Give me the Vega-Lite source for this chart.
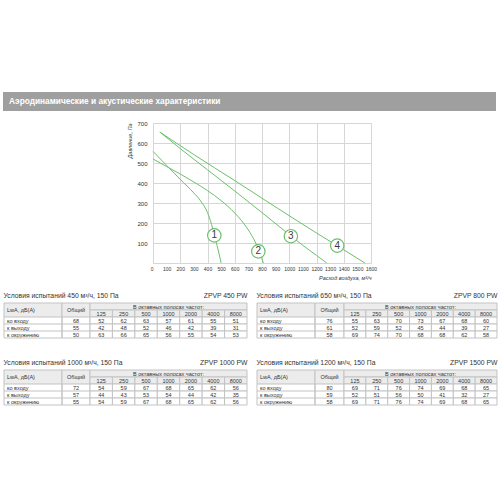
{
"$schema": "https://vega.github.io/schema/vega-lite/v6.json",
"padding": {"left": 3, "top": 92, "right": 0, "bottom": 0},
"background": "white",
"bounds": "flush",
"spacing": 0,
"datasets": {
 "blank": [],
 "hdr": [{"row": "h1"}, {"row": "h2"}],
 "curves": [
  {"curve":"1","flow":0,"p":558},{"curve":"1","flow":100,"p":488},{"curve":"1","flow":200,"p":418},{"curve":"1","flow":300,"p":350},{"curve":"1","flow":350,"p":310},{"curve":"1","flow":400,"p":252},{"curve":"1","flow":430,"p":192},{"curve":"1","flow":450,"p":140},{"curve":"1","flow":470,"p":88},{"curve":"1","flow":500,"p":0},
  {"curve":"2","flow":0,"p":520},{"curve":"2","flow":100,"p":482},{"curve":"2","flow":200,"p":445},{"curve":"2","flow":300,"p":405},{"curve":"2","flow":400,"p":362},{"curve":"2","flow":500,"p":312},{"curve":"2","flow":600,"p":250},{"curve":"2","flow":700,"p":165},{"curve":"2","flow":750,"p":105},{"curve":"2","flow":780,"p":58},{"curve":"2","flow":810,"p":0},
  {"curve":"3","flow":50,"p":655},{"curve":"3","flow":200,"p":572},{"curve":"3","flow":400,"p":466},{"curve":"3","flow":600,"p":360},{"curve":"3","flow":800,"p":252},{"curve":"3","flow":1000,"p":142},{"curve":"3","flow":1100,"p":88},{"curve":"3","flow":1200,"p":38},{"curve":"3","flow":1275,"p":0},
  {"curve":"4","flow":50,"p":655},{"curve":"4","flow":300,"p":542},{"curve":"4","flow":600,"p":412},{"curve":"4","flow":900,"p":280},{"curve":"4","flow":1200,"p":150},{"curve":"4","flow":1400,"p":66},{"curve":"4","flow":1555,"p":0}
 ],
 "tags": [
  {"curve":"1","flow":450,"p":138},{"curve":"2","flow":773,"p":58},{"curve":"3","flow":1012,"p":134},{"curve":"4","flow":1352,"p":87}
 ],
 "noise": [
  {"t":"ZPVP 450 PW","row":"ко входу","total":68,"125":52,"250":62,"500":63,"1000":57,"2000":61,"4000":55,"8000":51},
  {"t":"ZPVP 450 PW","row":"к выходу","total":55,"125":42,"250":48,"500":52,"1000":46,"2000":42,"4000":39,"8000":31},
  {"t":"ZPVP 450 PW","row":"к окружению","total":50,"125":63,"250":66,"500":65,"1000":56,"2000":55,"4000":54,"8000":53},
  {"t":"ZPVP 800 PW","row":"ко входу","total":76,"125":55,"250":63,"500":70,"1000":73,"2000":67,"4000":68,"8000":60},
  {"t":"ZPVP 800 PW","row":"к выходу","total":61,"125":52,"250":59,"500":52,"1000":45,"2000":44,"4000":39,"8000":27},
  {"t":"ZPVP 800 PW","row":"к окружению","total":58,"125":69,"250":74,"500":70,"1000":68,"2000":68,"4000":62,"8000":58},
  {"t":"ZPVP 1000 PW","row":"ко входу","total":72,"125":54,"250":59,"500":67,"1000":68,"2000":65,"4000":62,"8000":56},
  {"t":"ZPVP 1000 PW","row":"к выходу","total":57,"125":44,"250":43,"500":53,"1000":54,"2000":44,"4000":42,"8000":35},
  {"t":"ZPVP 1000 PW","row":"к окружению","total":55,"125":54,"250":59,"500":67,"1000":68,"2000":65,"4000":62,"8000":56},
  {"t":"ZPVP 1500 PW","row":"ко входу","total":80,"125":69,"250":71,"500":76,"1000":74,"2000":69,"4000":68,"8000":65},
  {"t":"ZPVP 1500 PW","row":"к выходу","total":59,"125":52,"250":51,"500":56,"1000":50,"2000":41,"4000":32,"8000":27},
  {"t":"ZPVP 1500 PW","row":"к окружению","total":58,"125":69,"250":71,"500":76,"1000":74,"2000":69,"4000":68,"8000":65}
 ]
},
"vconcat": [
 {
  "width": 493, "height": 19,
  "view": {"fill": "#9f9f9f", "stroke": null},
  "data": {"values": [{"s": "Аэродинамические и акустические характеристики"}]},
  "mark": {"type": "text", "align": "left", "baseline": "middle", "dx": 6, "font": "Liberation Sans", "fontSize": 8.3, "fontWeight": "bold", "color": "white"},
  "encoding": {"text": {"field": "s"}, "x": {"datum": 0, "type": "quantitative", "scale": {"domain": [0, 1]}, "axis": null}}
 },
 {"data": {"name": "blank"}, "mark": "point", "width": 1, "height": 12},
 {
  "bounds": "flush", "spacing": 0,
  "hconcat": [
   {"data": {"name": "blank"}, "mark": "point", "width": 150, "height": 140},
   {
    "width": 218, "height": 140,
    "encoding": {
     "x": {"field": "flow", "type": "quantitative", "scale": {"domain": [0, 1600], "nice": false, "zero": false},
      "axis": {"values": [0,100,200,300,400,500,600,700,800,900,1000,1100,1200,1300,1400,1500,1600], "format": "d",
       "grid": true, "gridColor": {"condition": {"test": "datum.value % 200 === 0", "value": "#d6d6d6"}, "value": "transparent"},
       "ticks": false, "domain": false, "labelFontSize": 5, "labelPadding": 3, "labelFlush": false, "labelOverlap": false,
       "labelAlign": {"condition": {"test": "datum.value === 0", "value": "right"}, "value": "center"},
       "title": "Расход воздуха, м³/ч", "titleAnchor": "end", "titleFontSize": 5.5, "titleFontStyle": "italic", "titleFontWeight": "normal", "titlePadding": 4}},
     "y": {"field": "p", "type": "quantitative", "scale": {"domain": [0, 700], "nice": false},
      "axis": {"values": [0,100,200,300,400,500,600,700], "format": "d", "grid": true, "gridColor": "#d6d6d6", "ticks": false, "domain": false,
       "labelFontSize": 6, "labelPadding": 6, "labelOverlap": false, "labelExpr": "datum.value === 0 ? '' : datum.label",
       "title": "Давление, Па", "titleAnchor": "end", "titleAngle": -90, "titleFontSize": 5.5, "titleFontStyle": "italic", "titleFontWeight": "normal", "titlePadding": 4}}
    },
    "layer": [
     {"data": {"name": "curves"}, "mark": {"type": "line", "interpolate": "monotone", "color": "#6cbf6c", "strokeWidth": 1},
      "encoding": {"detail": {"field": "curve", "type": "nominal"}}},
     {"data": {"name": "tags"}, "mark": {"type": "point", "shape": "circle", "size": 180, "filled": true, "fill": "white", "stroke": "#6cbf6c", "strokeWidth": 1.2, "opacity": 1}},
     {"data": {"name": "tags"}, "mark": {"type": "text", "font": "Liberation Sans", "fontSize": 10, "color": "#3a3a3a"},
      "encoding": {"text": {"field": "curve"}}}
    ]
   }
  ]
 },
 {"data": {"name": "blank"}, "mark": "point", "width": 1, "height": 180},
 {
  "bounds": "flush", "spacing": 0,
  "hconcat": [
   {"data": {"name": "blank"}, "mark": "point", "width": 1, "height": 35},
   {
    "width": 58, "height": 35,
    "title": {"text": "Условия испытаний 450 м³/ч, 150 Па", "anchor": "start", "offset": 3},
    "layer": [
     {"data": {"name": "hdr"}, "mark": {"type": "rect", "color": "#ececec"}, "encoding": {"y": {"field": "row", "type": "nominal", "scale": {"domain": ["h1","h2","ко входу","к выходу","к окружению"], "paddingInner": 0, "paddingOuter": 0}, "axis": null}}},
     {"data": {"name": "noise"}, "transform": [{"filter": "datum.t == 'ZPVP 450 PW'"}], "mark": {"type": "rule", "color": "#c3c3c3"}, "encoding": {"y": {"field": "row", "type": "nominal", "bandPosition": 0}}},
     {"data": {"values": [{"s": "LwA, дБ(A)"}]}, "mark": {"type": "text", "align": "left", "dx": 3}, "encoding": {"text": {"field": "s"}, "x": {"datum": 0, "type": "quantitative", "scale": {"domain": [0, 1]}, "axis": null}, "y": {"datum": "h2", "type": "nominal", "bandPosition": 0}}},
     {"data": {"name": "noise"}, "transform": [{"filter": "datum.t == 'ZPVP 450 PW'"}], "mark": {"type": "text", "align": "left", "dx": 3}, "encoding": {"text": {"field": "row"}, "x": {"datum": 0, "type": "quantitative"}, "y": {"field": "row", "type": "nominal"}}},
     {"data": {"values": [{}]}, "mark": {"type": "rect", "filled": false, "color": "#c3c3c3"}, "encoding": {}}
    ]
   },
   {
    "width": 28, "height": 35,
    "layer": [
     {"data": {"name": "hdr"}, "mark": {"type": "rect", "color": "#ececec"}, "encoding": {"y": {"field": "row", "type": "nominal", "scale": {"domain": ["h1","h2","ко входу","к выходу","к окружению"], "paddingInner": 0, "paddingOuter": 0}, "axis": null}}},
     {"data": {"name": "noise"}, "transform": [{"filter": "datum.t == 'ZPVP 450 PW'"}], "mark": {"type": "rule", "color": "#c3c3c3"}, "encoding": {"y": {"field": "row", "type": "nominal", "bandPosition": 0}}},
     {"data": {"values": [{"s": "Общий"}]}, "mark": "text", "encoding": {"text": {"field": "s"}, "y": {"datum": "h2", "type": "nominal", "bandPosition": 0}}},
     {"data": {"name": "noise"}, "transform": [{"filter": "datum.t == 'ZPVP 450 PW'"}], "mark": "text", "encoding": {"text": {"field": "total"}, "y": {"field": "row", "type": "nominal"}}},
     {"data": {"values": [{}]}, "mark": {"type": "rect", "filled": false, "color": "#c3c3c3"}, "encoding": {}}
    ]
   },
   {
    "width": 157, "height": 35,
    "title": {"text": "ZPVP 450 PW", "anchor": "end", "offset": 3},
    "layer": [
     {"data": {"name": "hdr"}, "transform": [{"filter": "datum.row == 'h1'"}], "mark": {"type": "rect", "fill": "#ececec", "stroke": "#c3c3c3"}, "encoding": {"y": {"field": "row", "type": "nominal", "scale": {"domain": ["h1","h2","ко входу","к выходу","к окружению"], "paddingInner": 0, "paddingOuter": 0}, "axis": null}}},
     {"data": {"name": "noise"}, "transform": [{"filter": "datum.t == 'ZPVP 450 PW' && datum.row == 'ко входу'"}, {"fold": ["125","250","500","1000","2000","4000","8000"], "as": ["f","v"]}], "mark": {"type": "rect", "fill": "#ececec", "stroke": "#c3c3c3"}, "encoding": {"x": {"field": "f", "type": "nominal", "scale": {"domain": ["125","250","500","1000","2000","4000","8000"], "paddingInner": 0, "paddingOuter": 0}, "axis": null}, "y": {"datum": "h2", "type": "nominal"}}},
     {"data": {"name": "noise"}, "transform": [{"filter": "datum.t == 'ZPVP 450 PW'"}, {"fold": ["125","250","500","1000","2000","4000","8000"], "as": ["f","v"]}], "mark": {"type": "rect", "fill": "white", "stroke": "#c3c3c3"}, "encoding": {"x": {"field": "f", "type": "nominal"}, "y": {"field": "row", "type": "nominal"}}},
     {"data": {"values": [{"s": "В октавных полосах частот:"}]}, "mark": "text", "encoding": {"text": {"field": "s"}, "y": {"datum": "h1", "type": "nominal"}}},
     {"data": {"name": "noise"}, "transform": [{"filter": "datum.t == 'ZPVP 450 PW' && datum.row == 'ко входу'"}, {"fold": ["125","250","500","1000","2000","4000","8000"], "as": ["f","v"]}], "mark": "text", "encoding": {"text": {"field": "f"}, "x": {"field": "f", "type": "nominal"}, "y": {"datum": "h2", "type": "nominal"}}},
     {"data": {"name": "noise"}, "transform": [{"filter": "datum.t == 'ZPVP 450 PW'"}, {"fold": ["125","250","500","1000","2000","4000","8000"], "as": ["f","v"]}], "mark": "text", "encoding": {"text": {"field": "v"}, "x": {"field": "f", "type": "nominal"}, "y": {"field": "row", "type": "nominal"}}}
    ]
   },
   {"data": {"name": "blank"}, "mark": "point", "width": 10, "height": 35},
   {
    "width": 58, "height": 35,
    "title": {"text": "Условия испытаний 650 м³/ч, 150 Па", "anchor": "start", "offset": 3},
    "layer": [
     {"data": {"name": "hdr"}, "mark": {"type": "rect", "color": "#ececec"}, "encoding": {"y": {"field": "row", "type": "nominal", "scale": {"domain": ["h1","h2","ко входу","к выходу","к окружению"], "paddingInner": 0, "paddingOuter": 0}, "axis": null}}},
     {"data": {"name": "noise"}, "transform": [{"filter": "datum.t == 'ZPVP 800 PW'"}], "mark": {"type": "rule", "color": "#c3c3c3"}, "encoding": {"y": {"field": "row", "type": "nominal", "bandPosition": 0}}},
     {"data": {"values": [{"s": "LwA, дБ(A)"}]}, "mark": {"type": "text", "align": "left", "dx": 3}, "encoding": {"text": {"field": "s"}, "x": {"datum": 0, "type": "quantitative", "scale": {"domain": [0, 1]}, "axis": null}, "y": {"datum": "h2", "type": "nominal", "bandPosition": 0}}},
     {"data": {"name": "noise"}, "transform": [{"filter": "datum.t == 'ZPVP 800 PW'"}], "mark": {"type": "text", "align": "left", "dx": 3}, "encoding": {"text": {"field": "row"}, "x": {"datum": 0, "type": "quantitative"}, "y": {"field": "row", "type": "nominal"}}},
     {"data": {"values": [{}]}, "mark": {"type": "rect", "filled": false, "color": "#c3c3c3"}, "encoding": {}}
    ]
   },
   {
    "width": 29, "height": 35,
    "layer": [
     {"data": {"name": "hdr"}, "mark": {"type": "rect", "color": "#ececec"}, "encoding": {"y": {"field": "row", "type": "nominal", "scale": {"domain": ["h1","h2","ко входу","к выходу","к окружению"], "paddingInner": 0, "paddingOuter": 0}, "axis": null}}},
     {"data": {"name": "noise"}, "transform": [{"filter": "datum.t == 'ZPVP 800 PW'"}], "mark": {"type": "rule", "color": "#c3c3c3"}, "encoding": {"y": {"field": "row", "type": "nominal", "bandPosition": 0}}},
     {"data": {"values": [{"s": "Общий"}]}, "mark": "text", "encoding": {"text": {"field": "s"}, "y": {"datum": "h2", "type": "nominal", "bandPosition": 0}}},
     {"data": {"name": "noise"}, "transform": [{"filter": "datum.t == 'ZPVP 800 PW'"}], "mark": "text", "encoding": {"text": {"field": "total"}, "y": {"field": "row", "type": "nominal"}}},
     {"data": {"values": [{}]}, "mark": {"type": "rect", "filled": false, "color": "#c3c3c3"}, "encoding": {}}
    ]
   },
   {
    "width": 153, "height": 35,
    "title": {"text": "ZPVP 800 PW", "anchor": "end", "offset": 3},
    "layer": [
     {"data": {"name": "hdr"}, "transform": [{"filter": "datum.row == 'h1'"}], "mark": {"type": "rect", "fill": "#ececec", "stroke": "#c3c3c3"}, "encoding": {"y": {"field": "row", "type": "nominal", "scale": {"domain": ["h1","h2","ко входу","к выходу","к окружению"], "paddingInner": 0, "paddingOuter": 0}, "axis": null}}},
     {"data": {"name": "noise"}, "transform": [{"filter": "datum.t == 'ZPVP 800 PW' && datum.row == 'ко входу'"}, {"fold": ["125","250","500","1000","2000","4000","8000"], "as": ["f","v"]}], "mark": {"type": "rect", "fill": "#ececec", "stroke": "#c3c3c3"}, "encoding": {"x": {"field": "f", "type": "nominal", "scale": {"domain": ["125","250","500","1000","2000","4000","8000"], "paddingInner": 0, "paddingOuter": 0}, "axis": null}, "y": {"datum": "h2", "type": "nominal"}}},
     {"data": {"name": "noise"}, "transform": [{"filter": "datum.t == 'ZPVP 800 PW'"}, {"fold": ["125","250","500","1000","2000","4000","8000"], "as": ["f","v"]}], "mark": {"type": "rect", "fill": "white", "stroke": "#c3c3c3"}, "encoding": {"x": {"field": "f", "type": "nominal"}, "y": {"field": "row", "type": "nominal"}}},
     {"data": {"values": [{"s": "В октавных полосах частот:"}]}, "mark": "text", "encoding": {"text": {"field": "s"}, "y": {"datum": "h1", "type": "nominal"}}},
     {"data": {"name": "noise"}, "transform": [{"filter": "datum.t == 'ZPVP 800 PW' && datum.row == 'ко входу'"}, {"fold": ["125","250","500","1000","2000","4000","8000"], "as": ["f","v"]}], "mark": "text", "encoding": {"text": {"field": "f"}, "x": {"field": "f", "type": "nominal"}, "y": {"datum": "h2", "type": "nominal"}}},
     {"data": {"name": "noise"}, "transform": [{"filter": "datum.t == 'ZPVP 800 PW'"}, {"fold": ["125","250","500","1000","2000","4000","8000"], "as": ["f","v"]}], "mark": "text", "encoding": {"text": {"field": "v"}, "x": {"field": "f", "type": "nominal"}, "y": {"field": "row", "type": "nominal"}}}
    ]
   }
  ]
 },
 {"data": {"name": "blank"}, "mark": "point", "width": 1, "height": 67},
 {
  "bounds": "flush", "spacing": 0,
  "hconcat": [
   {"data": {"name": "blank"}, "mark": "point", "width": 1, "height": 35},
   {
    "width": 58, "height": 35,
    "title": {"text": "Условия испытаний 1000 м³/ч, 150 Па", "anchor": "start", "offset": 3},
    "layer": [
     {"data": {"name": "hdr"}, "mark": {"type": "rect", "color": "#ececec"}, "encoding": {"y": {"field": "row", "type": "nominal", "scale": {"domain": ["h1","h2","ко входу","к выходу","к окружению"], "paddingInner": 0, "paddingOuter": 0}, "axis": null}}},
     {"data": {"name": "noise"}, "transform": [{"filter": "datum.t == 'ZPVP 1000 PW'"}], "mark": {"type": "rule", "color": "#c3c3c3"}, "encoding": {"y": {"field": "row", "type": "nominal", "bandPosition": 0}}},
     {"data": {"values": [{"s": "LwA, дБ(A)"}]}, "mark": {"type": "text", "align": "left", "dx": 3}, "encoding": {"text": {"field": "s"}, "x": {"datum": 0, "type": "quantitative", "scale": {"domain": [0, 1]}, "axis": null}, "y": {"datum": "h2", "type": "nominal", "bandPosition": 0}}},
     {"data": {"name": "noise"}, "transform": [{"filter": "datum.t == 'ZPVP 1000 PW'"}], "mark": {"type": "text", "align": "left", "dx": 3}, "encoding": {"text": {"field": "row"}, "x": {"datum": 0, "type": "quantitative"}, "y": {"field": "row", "type": "nominal"}}},
     {"data": {"values": [{}]}, "mark": {"type": "rect", "filled": false, "color": "#c3c3c3"}, "encoding": {}}
    ]
   },
   {
    "width": 28, "height": 35,
    "layer": [
     {"data": {"name": "hdr"}, "mark": {"type": "rect", "color": "#ececec"}, "encoding": {"y": {"field": "row", "type": "nominal", "scale": {"domain": ["h1","h2","ко входу","к выходу","к окружению"], "paddingInner": 0, "paddingOuter": 0}, "axis": null}}},
     {"data": {"name": "noise"}, "transform": [{"filter": "datum.t == 'ZPVP 1000 PW'"}], "mark": {"type": "rule", "color": "#c3c3c3"}, "encoding": {"y": {"field": "row", "type": "nominal", "bandPosition": 0}}},
     {"data": {"values": [{"s": "Общий"}]}, "mark": "text", "encoding": {"text": {"field": "s"}, "y": {"datum": "h2", "type": "nominal", "bandPosition": 0}}},
     {"data": {"name": "noise"}, "transform": [{"filter": "datum.t == 'ZPVP 1000 PW'"}], "mark": "text", "encoding": {"text": {"field": "total"}, "y": {"field": "row", "type": "nominal"}}},
     {"data": {"values": [{}]}, "mark": {"type": "rect", "filled": false, "color": "#c3c3c3"}, "encoding": {}}
    ]
   },
   {
    "width": 157, "height": 35,
    "title": {"text": "ZPVP 1000 PW", "anchor": "end", "offset": 3},
    "layer": [
     {"data": {"name": "hdr"}, "transform": [{"filter": "datum.row == 'h1'"}], "mark": {"type": "rect", "fill": "#ececec", "stroke": "#c3c3c3"}, "encoding": {"y": {"field": "row", "type": "nominal", "scale": {"domain": ["h1","h2","ко входу","к выходу","к окружению"], "paddingInner": 0, "paddingOuter": 0}, "axis": null}}},
     {"data": {"name": "noise"}, "transform": [{"filter": "datum.t == 'ZPVP 1000 PW' && datum.row == 'ко входу'"}, {"fold": ["125","250","500","1000","2000","4000","8000"], "as": ["f","v"]}], "mark": {"type": "rect", "fill": "#ececec", "stroke": "#c3c3c3"}, "encoding": {"x": {"field": "f", "type": "nominal", "scale": {"domain": ["125","250","500","1000","2000","4000","8000"], "paddingInner": 0, "paddingOuter": 0}, "axis": null}, "y": {"datum": "h2", "type": "nominal"}}},
     {"data": {"name": "noise"}, "transform": [{"filter": "datum.t == 'ZPVP 1000 PW'"}, {"fold": ["125","250","500","1000","2000","4000","8000"], "as": ["f","v"]}], "mark": {"type": "rect", "fill": "white", "stroke": "#c3c3c3"}, "encoding": {"x": {"field": "f", "type": "nominal"}, "y": {"field": "row", "type": "nominal"}}},
     {"data": {"values": [{"s": "В октавных полосах частот:"}]}, "mark": "text", "encoding": {"text": {"field": "s"}, "y": {"datum": "h1", "type": "nominal"}}},
     {"data": {"name": "noise"}, "transform": [{"filter": "datum.t == 'ZPVP 1000 PW' && datum.row == 'ко входу'"}, {"fold": ["125","250","500","1000","2000","4000","8000"], "as": ["f","v"]}], "mark": "text", "encoding": {"text": {"field": "f"}, "x": {"field": "f", "type": "nominal"}, "y": {"datum": "h2", "type": "nominal"}}},
     {"data": {"name": "noise"}, "transform": [{"filter": "datum.t == 'ZPVP 1000 PW'"}, {"fold": ["125","250","500","1000","2000","4000","8000"], "as": ["f","v"]}], "mark": "text", "encoding": {"text": {"field": "v"}, "x": {"field": "f", "type": "nominal"}, "y": {"field": "row", "type": "nominal"}}}
    ]
   },
   {"data": {"name": "blank"}, "mark": "point", "width": 10, "height": 35},
   {
    "width": 58, "height": 35,
    "title": {"text": "Условия испытаний 1200 м³/ч, 150 Па", "anchor": "start", "offset": 3},
    "layer": [
     {"data": {"name": "hdr"}, "mark": {"type": "rect", "color": "#ececec"}, "encoding": {"y": {"field": "row", "type": "nominal", "scale": {"domain": ["h1","h2","ко входу","к выходу","к окружению"], "paddingInner": 0, "paddingOuter": 0}, "axis": null}}},
     {"data": {"name": "noise"}, "transform": [{"filter": "datum.t == 'ZPVP 1500 PW'"}], "mark": {"type": "rule", "color": "#c3c3c3"}, "encoding": {"y": {"field": "row", "type": "nominal", "bandPosition": 0}}},
     {"data": {"values": [{"s": "LwA, дБ(A)"}]}, "mark": {"type": "text", "align": "left", "dx": 3}, "encoding": {"text": {"field": "s"}, "x": {"datum": 0, "type": "quantitative", "scale": {"domain": [0, 1]}, "axis": null}, "y": {"datum": "h2", "type": "nominal", "bandPosition": 0}}},
     {"data": {"name": "noise"}, "transform": [{"filter": "datum.t == 'ZPVP 1500 PW'"}], "mark": {"type": "text", "align": "left", "dx": 3}, "encoding": {"text": {"field": "row"}, "x": {"datum": 0, "type": "quantitative"}, "y": {"field": "row", "type": "nominal"}}},
     {"data": {"values": [{}]}, "mark": {"type": "rect", "filled": false, "color": "#c3c3c3"}, "encoding": {}}
    ]
   },
   {
    "width": 29, "height": 35,
    "layer": [
     {"data": {"name": "hdr"}, "mark": {"type": "rect", "color": "#ececec"}, "encoding": {"y": {"field": "row", "type": "nominal", "scale": {"domain": ["h1","h2","ко входу","к выходу","к окружению"], "paddingInner": 0, "paddingOuter": 0}, "axis": null}}},
     {"data": {"name": "noise"}, "transform": [{"filter": "datum.t == 'ZPVP 1500 PW'"}], "mark": {"type": "rule", "color": "#c3c3c3"}, "encoding": {"y": {"field": "row", "type": "nominal", "bandPosition": 0}}},
     {"data": {"values": [{"s": "Общий"}]}, "mark": "text", "encoding": {"text": {"field": "s"}, "y": {"datum": "h2", "type": "nominal", "bandPosition": 0}}},
     {"data": {"name": "noise"}, "transform": [{"filter": "datum.t == 'ZPVP 1500 PW'"}], "mark": "text", "encoding": {"text": {"field": "total"}, "y": {"field": "row", "type": "nominal"}}},
     {"data": {"values": [{}]}, "mark": {"type": "rect", "filled": false, "color": "#c3c3c3"}, "encoding": {}}
    ]
   },
   {
    "width": 153, "height": 35,
    "title": {"text": "ZPVP 1500 PW", "anchor": "end", "offset": 3},
    "layer": [
     {"data": {"name": "hdr"}, "transform": [{"filter": "datum.row == 'h1'"}], "mark": {"type": "rect", "fill": "#ececec", "stroke": "#c3c3c3"}, "encoding": {"y": {"field": "row", "type": "nominal", "scale": {"domain": ["h1","h2","ко входу","к выходу","к окружению"], "paddingInner": 0, "paddingOuter": 0}, "axis": null}}},
     {"data": {"name": "noise"}, "transform": [{"filter": "datum.t == 'ZPVP 1500 PW' && datum.row == 'ко входу'"}, {"fold": ["125","250","500","1000","2000","4000","8000"], "as": ["f","v"]}], "mark": {"type": "rect", "fill": "#ececec", "stroke": "#c3c3c3"}, "encoding": {"x": {"field": "f", "type": "nominal", "scale": {"domain": ["125","250","500","1000","2000","4000","8000"], "paddingInner": 0, "paddingOuter": 0}, "axis": null}, "y": {"datum": "h2", "type": "nominal"}}},
     {"data": {"name": "noise"}, "transform": [{"filter": "datum.t == 'ZPVP 1500 PW'"}, {"fold": ["125","250","500","1000","2000","4000","8000"], "as": ["f","v"]}], "mark": {"type": "rect", "fill": "white", "stroke": "#c3c3c3"}, "encoding": {"x": {"field": "f", "type": "nominal"}, "y": {"field": "row", "type": "nominal"}}},
     {"data": {"values": [{"s": "В октавных полосах частот:"}]}, "mark": "text", "encoding": {"text": {"field": "s"}, "y": {"datum": "h1", "type": "nominal"}}},
     {"data": {"name": "noise"}, "transform": [{"filter": "datum.t == 'ZPVP 1500 PW' && datum.row == 'ко входу'"}, {"fold": ["125","250","500","1000","2000","4000","8000"], "as": ["f","v"]}], "mark": "text", "encoding": {"text": {"field": "f"}, "x": {"field": "f", "type": "nominal"}, "y": {"datum": "h2", "type": "nominal"}}},
     {"data": {"name": "noise"}, "transform": [{"filter": "datum.t == 'ZPVP 1500 PW'"}, {"fold": ["125","250","500","1000","2000","4000","8000"], "as": ["f","v"]}], "mark": "text", "encoding": {"text": {"field": "v"}, "x": {"field": "f", "type": "nominal"}, "y": {"field": "row", "type": "nominal"}}}
    ]
   }
  ]
 }
],
"config": {
 "view": {"stroke": null},
 "text": {"font": "Liberation Sans", "fontSize": 5.5, "color": "#333333", "baseline": "middle"},
 "title": {"font": "Liberation Sans", "fontSize": 6.8, "fontWeight": "normal", "color": "#333333"},
 "axis": {"labelFont": "Liberation Sans", "titleFont": "Liberation Sans", "labelColor": "#333333", "titleColor": "#333333"}
}
}
